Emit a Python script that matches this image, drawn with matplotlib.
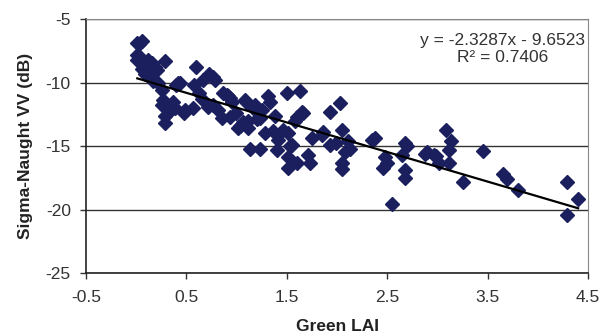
import numpy as np
import matplotlib.pyplot as plt

plt.rcParams['font.family'] = ['Liberation Sans', 'DejaVu Sans']
plt.rcParams['axes.unicode_minus'] = False

# Green LAI vs backscatter
lai = [0.01, 0.06, 0.03, 0.01, 0.04, 0.01, 0.07, 0.12, 0.16, 0.19, 0.10, 0.06, 0.09, 0.12, 0.21,
       0.29, 0.59, 0.42, 0.40, 0.22, 0.26, 0.27, 0.26, 0.31, 0.29, 0.29, 0.37, 0.39, 0.49, 0.56,
       0.57, 0.62, 0.66, 0.72, 0.76, 0.78, 0.71, 0.76, 0.81, 0.86, 0.91, 0.85, 0.93, 0.14, 0.17,
       0.44, 0.65, 0.90, 0.93, 0.95, 1.03, 1.01, 1.06, 1.11, 1.11, 1.08, 1.10, 1.18, 1.25, 1.31,
       1.33, 1.38, 1.50, 1.63, 1.65, 1.60, 1.58, 1.93, 1.36, 1.46, 1.51, 1.41, 1.55, 1.13, 1.23,
       1.40, 1.53, 1.51, 1.60, 1.51, 1.71, 1.73, 1.75, 1.85, 1.93, 1.16, 1.23, 2.03, 1.66, 2.05,
       1.86, 1.99, 2.08, 2.13, 2.11, 2.05, 2.05, 2.35, 2.38, 2.48, 2.50, 2.46, 2.65, 2.68, 2.70,
       2.68, 2.68, 2.55, 2.88, 2.96, 2.90, 2.98, 3.08, 3.13, 3.11, 3.01, 3.11, 3.25, 3.45, 3.65,
       3.69, 3.80, 4.29, 4.29, 4.40, 0.48, 0.33, 1.28, 1.20, 0.99]
sigma_vv = [-6.9, -6.7, -7.0, -7.8, -8.0, -8.2, -8.4, -8.2, -8.5, -8.8, -8.7, -8.9, -9.3, -9.0, -9.0,
            -8.3, -8.8, -10.0, -10.2, -10.0, -10.6, -11.4, -11.8, -12.0, -12.6, -13.2, -11.5, -12.0, -12.2, -12.0,
            -10.2, -10.8, -9.8, -9.3, -9.6, -9.8, -11.9, -11.8, -12.2, -10.8, -11.1, -12.8, -12.7, -9.6, -9.9,
            -10.0, -11.3, -11.0, -11.2, -11.5, -13.4, -13.6, -13.1, -13.0, -13.6, -11.4, -11.6, -11.8, -12.2, -11.1,
            -11.5, -12.6, -10.8, -10.7, -12.3, -12.7, -13.0, -12.3, -13.8, -13.7, -14.0, -14.5, -14.9, -15.2, -15.2,
            -15.3, -15.0, -15.9, -16.3, -16.7, -15.7, -16.3, -14.4, -14.1, -14.9, -12.0, -12.8, -11.6, -12.4, -13.7,
            -13.9, -14.8, -15.5, -15.2, -14.6, -16.3, -16.8, -14.5, -14.4, -15.9, -16.3, -16.7, -15.7, -14.8, -15.0,
            -16.9, -17.5, -19.6, -15.6, -15.7, -15.5, -15.8, -13.7, -14.6, -15.3, -16.3, -16.3, -17.8, -15.4, -17.2,
            -17.6, -18.5, -17.8, -20.4, -19.2, -12.4, -12.3, -14.0, -12.9, -12.4]

# retta di regressione (come da etichetta)
slope, intercept = -2.3287, -9.6523
r2 = 0.7406

fig = plt.figure(figsize=(6.02, 3.33), dpi=100)
ax = fig.add_axes([0.143, 0.180, 0.834, 0.763])

ax.plot(lai, sigma_vv, linestyle='none', marker='D', ms=7, color='#1b1f5e')

x_fit = np.array([min(lai), max(lai)])
ax.plot(x_fit, slope * x_fit + intercept, color='black', lw=1.6)

ax.set_xlim(-0.5, 4.5)
ax.set_ylim(-25, -5)
ax.set_xticks(np.arange(-0.5, 4.6, 1.0))
ax.set_yticks(np.arange(-25, -4, 5))
ax.set_xticklabels(['-0.5', '0.5', '1.5', '2.5', '3.5', '4.5'])
ax.tick_params(labelsize=12.5, length=4, width=1, colors='#333333', labelcolor='#333333')
ax.tick_params(axis='x', pad=8)
ax.tick_params(axis='y', pad=7)

ax.grid(True, axis='y', color='#333333', lw=1)
ax.set_axisbelow(True)
for s in ['left', 'bottom']:
    ax.spines[s].set_color('#222222')
    ax.spines[s].set_linewidth(1.2)
for s in ['top', 'right']:
    ax.spines[s].set_color('#888888')

ax.set_xlabel('Green LAI', fontsize=12.5, fontweight='bold', labelpad=10, color='#222222')
ax.set_ylabel('Sigma-Naught VV (dB)', fontsize=12.5, fontweight='bold', labelpad=9, color='#222222')

ax.text(3.65, -7.35, 'y = %.4fx - %.4f\nR² = %.4f' % (slope, -intercept, r2),
        ha='center', va='center', multialignment='center', fontsize=12.5, color='#333333',
        linespacing=1.15)

fig.savefig('out.png')
